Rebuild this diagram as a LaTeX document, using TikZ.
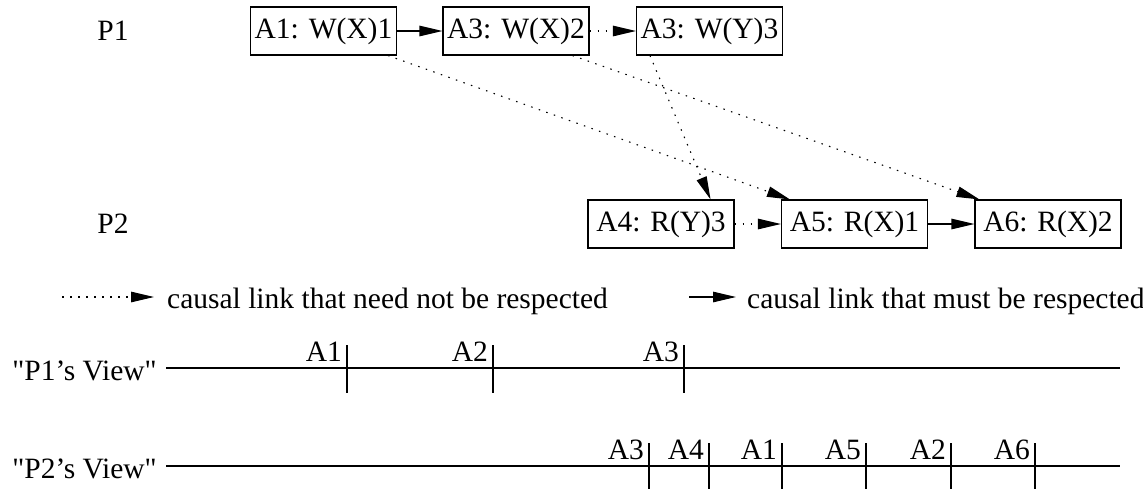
\documentclass[tikz,border=0pt]{standalone}
\usepackage{fontspec}
\setmainfont{Liberation Serif}[Ligatures=TeXOff]
\usetikzlibrary{arrows.meta}
\begin{document}
\begin{tikzpicture}[x=1pt,y=-1pt,
  every node/.style={font=\fontsize{29.5}{34}\selectfont},
  evt/.style={draw, line width=1.1pt, minimum width=146pt, minimum height=48pt, inner sep=0pt},
  tip/.style={-{Triangle[length=23pt,width=10.5pt]}},
  firm/.style={tip, line width=1.1pt},
  loose/.style={tip, line width=1.1pt, dash pattern=on 1.5pt off 6.5pt},
  axis/.style={line width=1.2pt},
  lbl/.style={anchor=base east, inner sep=0pt},
]
\useasboundingbox (0,0) rectangle (1143,488);

% process names
\node (p1) at (113,31) {P1};
\node (p2) at (113,224) {P2};

% events of P1
\node[evt] (b1) at (323.5,31) {A1: W(X)1};
\node[evt] (b2) at (516,31)   {A3: W(X)2};
\node[evt] (b3) at (709.5,31) {A3: W(Y)3};

% events of P2
\node[evt] (a4) at (661,224)  {A4: R(Y)3};
\node[evt] (a5) at (854.5,224) {A5: R(X)1};
\node[evt] (a6) at (1048,224) {A6: R(X)2};

% causal links
\draw[firm]  (b1) -- (b2);
\draw[loose] (b2) -- (b3);
\draw[loose] (a4) -- (a5);
\draw[firm]  (a5) -- (a6);
\draw[loose] ([xshift=-9pt]b1.south east) -- ([xshift=9pt]a5.north west);
\draw[loose] ([xshift=-17pt]b2.south east) -- ([xshift=5pt]a6.north west);
\draw[loose] ([xshift=14pt]b3.south west) -- ([xshift=-24pt]a4.north east);

% legend
\coordinate (d0) at (62,297);
\coordinate (d1) at (154,297);
\node[anchor=base west, inner sep=0pt] (leg1) at (167,308) {causal link that need not be respected};
\draw[loose] (d0) -- (d1);
\coordinate (s0) at (689,297);
\coordinate (s1) at (736,297);
\node[anchor=base west, inner sep=0pt] (leg2) at (747,308) {causal link that must be respected};
\draw[firm] (s0) -- (s1);

% P1's view
\node[lbl] (v1) at (157,380) {"P1’s View"};
\coordinate (v1a) at (166,368);
\coordinate (v1b) at (1120,368);
\draw[axis] (v1a) -- (v1b);
\foreach \x/\t in {347/A1,493/A2,684/A3}{
  \draw[axis] (\x,345) -- (\x,393);
  \node[lbl] at (\x-5,361) {\t};
}

% P2's view
\node[lbl] (v2) at (157,478) {"P2’s View"};
\coordinate (v2a) at (166,466);
\coordinate (v2b) at (1120,466);
\draw[axis] (v2a) -- (v2b);
\foreach \x/\t in {649/A3,709/A4,782/A1,866/A5,951/A2,1035/A6}{
  \draw[axis] (\x,443) -- (\x,489);
  \node[lbl] at (\x-5,459) {\t};
}
\end{tikzpicture}
\end{document}
